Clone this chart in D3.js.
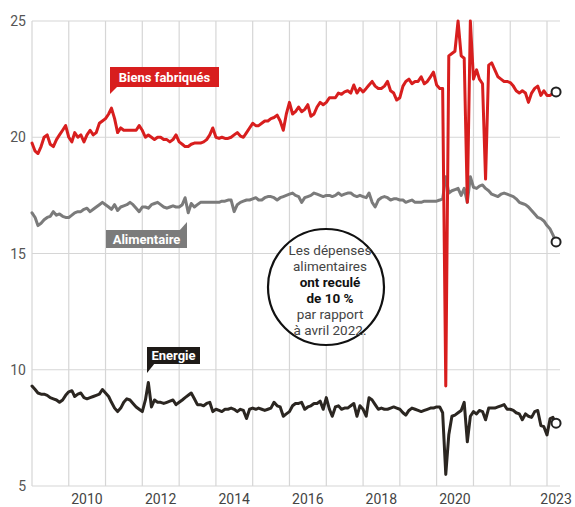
<!DOCTYPE html>
<html>
<head>
<meta charset="utf-8">
<script src="https://cdn.jsdelivr.net/npm/d3@7"></script>
<style>
html,body{margin:0;padding:0;background:#fff;}
svg{display:block;}
</style>
</head>
<body>
<svg id="chart" width="575" height="507"></svg>
<script>
// ---- DATA ----
const startMonth = "2009-01";            // first monthly observation
const yTicks = [5, 10, 15, 20, 25];
const xLabelYears = ["2010", "2012", "2014", "2016", "2018", "2020"];
const xEndLabel = "2023";

const biensFabriques = [
 19.75,19.4,19.3,19.6,20.0,20.1,19.7,19.6,19.9,20.1,20.3,20.5,
 20.0,19.8,20.2,20.0,20.1,19.8,20.1,20.3,20.1,20.2,20.6,20.7,
 20.8,21.0,21.25,20.8,20.2,20.4,20.3,20.3,20.3,20.3,20.3,20.5,
 20.3,20.0,20.1,20.0,19.9,20.0,20.0,19.9,19.9,19.8,19.9,20.1,
 19.8,19.7,19.6,19.6,19.7,19.75,19.75,19.75,19.8,19.9,20.1,20.4,
 20.0,19.95,20.0,19.95,19.95,20.0,20.1,20.2,20.05,20.0,20.2,20.4,
 20.6,20.5,20.5,20.6,20.7,20.7,20.8,20.85,20.95,20.7,20.3,21.0,
 21.5,21.0,21.1,21.3,21.1,21.2,21.4,20.9,21.0,21.3,21.5,21.4,
 21.5,21.7,21.7,21.7,21.9,21.85,21.95,22.0,21.9,22.25,21.9,22.1,
 21.95,22.1,22.25,22.4,22.2,22.1,22.1,22.2,22.4,22.0,21.9,21.6,
 21.7,22.2,22.4,22.5,22.3,22.4,22.4,22.6,22.3,22.4,22.6,22.8,
 22.25,22.1,22.1,9.3,23.5,23.6,23.7,25.0,23.5,23.4,17.2,25.0,
 22.5,22.9,22.5,22.3,18.2,23.1,23.2,22.9,22.6,22.5,22.4,22.4,
 22.35,22.2,22.0,21.9,22.0,21.9,21.5,21.9,22.1,22.2,21.8,22.0,
 21.8,21.8,21.9,21.95
];

const alimentaire = [
 16.75,16.55,16.2,16.3,16.45,16.55,16.6,16.8,16.65,16.7,16.6,16.55,
 16.55,16.65,16.75,16.8,16.8,16.9,16.95,16.8,16.9,17.0,17.1,17.2,
 17.1,17.0,16.9,17.1,16.85,17.0,17.05,17.1,17.2,17.1,16.95,16.8,
 17.0,17.0,16.95,17.1,17.15,17.2,17.1,17.0,16.95,17.0,17.05,17.0,
 17.0,17.1,17.4,16.75,17.15,17.0,17.1,17.2,17.2,17.2,17.2,17.2,
 17.2,17.2,17.25,17.25,17.3,17.3,16.8,17.1,17.2,17.25,17.3,17.3,
 17.35,17.4,17.3,17.3,17.4,17.45,17.45,17.4,17.3,17.4,17.45,17.5,
 17.55,17.6,17.5,17.45,17.2,17.4,17.45,17.5,17.6,17.55,17.5,17.45,
 17.5,17.5,17.45,17.5,17.6,17.5,17.55,17.6,17.6,17.5,17.45,17.5,
 17.45,17.4,17.6,17.2,17.0,17.3,17.4,17.45,17.4,17.3,17.35,17.35,
 17.3,17.3,17.2,17.25,17.3,17.2,17.2,17.2,17.25,17.25,17.25,17.25,
 17.25,17.3,17.35,18.3,17.6,17.7,17.75,17.8,17.5,17.8,17.2,18.3,
 17.85,17.8,17.9,17.95,17.8,17.7,17.55,17.5,17.45,17.55,17.6,17.55,
 17.5,17.45,17.35,17.2,17.15,17.1,17.0,16.85,16.7,16.55,16.5,16.4,
 16.2,16.05,15.8,15.5
];

const energie = [
 9.3,9.15,9.0,8.95,8.95,8.9,8.8,8.75,8.7,8.6,8.7,8.9,
 9.05,9.1,8.85,8.95,9.0,8.8,8.75,8.8,8.85,8.9,8.95,9.15,
 9.0,8.85,8.6,8.35,8.2,8.35,8.6,8.75,8.7,8.55,8.4,8.3,
 8.2,8.7,9.45,8.4,8.7,8.6,8.6,8.55,8.6,8.65,8.7,8.5,
 8.6,8.7,8.8,8.9,9.0,8.75,8.5,8.5,8.45,8.55,8.6,8.2,
 8.3,8.25,8.2,8.3,8.3,8.35,8.3,8.2,8.3,8.25,7.9,8.3,
 8.35,8.3,8.35,8.3,8.25,8.3,8.35,8.6,8.45,8.4,8.0,8.1,
 8.2,8.45,8.55,8.55,8.6,8.3,8.4,8.45,8.55,8.55,8.65,8.3,
 8.8,8.3,8.0,8.4,8.45,8.3,8.35,8.35,8.45,8.55,8.0,8.45,
 8.3,8.0,8.8,8.7,8.5,8.3,8.35,8.3,8.3,8.35,8.4,8.35,
 8.3,8.15,8.05,8.25,8.35,8.3,8.25,8.2,8.25,8.3,8.35,8.35,
 8.4,8.4,8.15,5.5,7.2,8.0,8.05,8.15,8.25,8.6,6.9,8.0,
 8.2,8.1,8.25,8.2,7.85,8.35,8.35,8.35,8.4,8.45,8.5,8.3,
 8.3,8.25,8.15,8.1,7.85,8.1,8.0,7.95,8.2,8.25,7.6,7.55,
 7.2,7.9,7.95,7.7
];

const seriesNames = ["Energie", "Alimentaire", "Biens fabriqués"];
const seriesColors = ["#2b2621", "#7b7b7b", "#d81e1e"];

const annotationLines = [
 {t: "Les dépenses", b: false},
 {t: "alimentaires", b: false},
 {t: "ont reculé", b: true},
 {t: "de 10 %", b: true},
 {t: "par rapport", b: false},
 {t: "à avril 2022.", b: false}
];

// ---- CHART ----
const svg = d3.select("#chart");
const parseMonth = d3.timeParse("%Y-%m");
const t0 = parseMonth(startMonth);
const dates = biensFabriques.map((_, i) => d3.timeMonth.offset(t0, i));

const x = d3.scaleTime()
  .domain([new Date(2009, 0, 1), new Date(2023, 0, 1)])
  .range([32, 547]);
const y = d3.scaleLinear().domain([5, 25]).range([486, 21]);

const grid = svg.append("g");
grid.selectAll("line.v")
  .data(d3.timeYear.range(new Date(2009, 0, 1), new Date(2023, 0, 2)))
  .join("line")
  .attr("x1", d => x(d)).attr("x2", d => x(d))
  .attr("y1", y(25)).attr("y2", y(5))
  .attr("stroke", "#d6d6d6").attr("stroke-width", 1.2);
grid.selectAll("line.h")
  .data(yTicks)
  .join("line")
  .attr("x1", 32).attr("x2", 560)
  .attr("y1", d => y(d)).attr("y2", d => y(d))
  .attr("stroke", "#d6d6d6").attr("stroke-width", 1.2);

svg.append("g").selectAll("text")
  .data(yTicks)
  .join("text")
  .attr("x", 26).attr("y", d => y(d) + 5)
  .attr("text-anchor", "end")
  .attr("font-family", "Roboto, 'Liberation Sans', sans-serif")
  .attr("font-size", 14)
  .attr("fill", "#555")
  .text(d => d);

svg.append("g").selectAll("text")
  .data(xLabelYears)
  .join("text")
  .attr("x", d => x(new Date(+d, 6, 1)))
  .attr("y", 504)
  .attr("text-anchor", "middle")
  .attr("font-family", "Roboto, 'Liberation Sans', sans-serif")
  .attr("font-size", 14)
  .attr("fill", "#444")
  .text(d => d);
svg.append("text")
  .attr("x", x(dates[dates.length - 1]))
  .attr("y", 504)
  .attr("text-anchor", "middle")
  .attr("font-family", "Roboto, 'Liberation Sans', sans-serif")
  .attr("font-size", 14)
  .attr("fill", "#444")
  .text(xEndLabel);

const allSeries = [energie, alimentaire, biensFabriques];
const line = d3.line().x((d, i) => x(dates[i])).y(d => y(d)).curve(d3.curveLinear);
svg.append("g").selectAll("path")
  .data(allSeries)
  .join("path")
  .attr("d", d => line(d))
  .attr("fill", "none")
  .attr("stroke", (d, i) => seriesColors[i])
  .attr("stroke-width", 3)
  .attr("stroke-linejoin", "round")
  .attr("stroke-linecap", "round");

svg.append("g").selectAll("circle")
  .data(allSeries)
  .join("circle")
  .attr("cx", d => x(dates[d.length - 1]))
  .attr("cy", d => y(d[d.length - 1]))
  .attr("r", 4.5)
  .attr("fill", "#fff")
  .attr("stroke", "#222")
  .attr("stroke-width", 2);

function label(text, color, bx, by, w, h, tail) {
  const g = svg.append("g");
  g.append("rect").attr("x", bx).attr("y", by).attr("width", w).attr("height", h).attr("fill", color);
  g.append("path").attr("d", tail).attr("fill", color);
  g.append("text")
    .attr("x", bx + w / 2).attr("y", by + h / 2 + 4.5)
    .attr("text-anchor", "middle")
    .attr("font-family", "Roboto, 'Liberation Sans', sans-serif")
    .attr("font-weight", "bold")
    .attr("font-size", 13)
    .attr("fill", "#fff")
    .text(text);
}
label(seriesNames[2], seriesColors[2], 110, 67, 109, 20, "M110,86 L110,94 L118,86 Z");
label(seriesNames[1], seriesColors[1], 106, 230, 81, 18, "M187,231 L187,222 L179,231 Z");
label(seriesNames[0], "#1e1a17", 147, 347, 53, 17, "M147,363 L147,373 L155,363 Z");

const ann = svg.append("g");
ann.append("circle").attr("cx", 326).attr("cy", 287).attr("r", 58)
  .attr("fill", "#fff").attr("stroke", "#111").attr("stroke-width", 2.2);
ann.selectAll("text")
  .data(annotationLines)
  .join("text")
  .attr("x", 330)
  .attr("y", (d, i) => 255 + i * 16)
  .attr("text-anchor", "middle")
  .attr("font-family", "Roboto, 'Liberation Sans', sans-serif")
  .attr("font-size", 13.5)
  .attr("font-weight", d => d.b ? "bold" : "normal")
  .attr("fill", d => d.b ? "#111" : "#444")
  .text(d => d.t);
</script>
</body>
</html>
